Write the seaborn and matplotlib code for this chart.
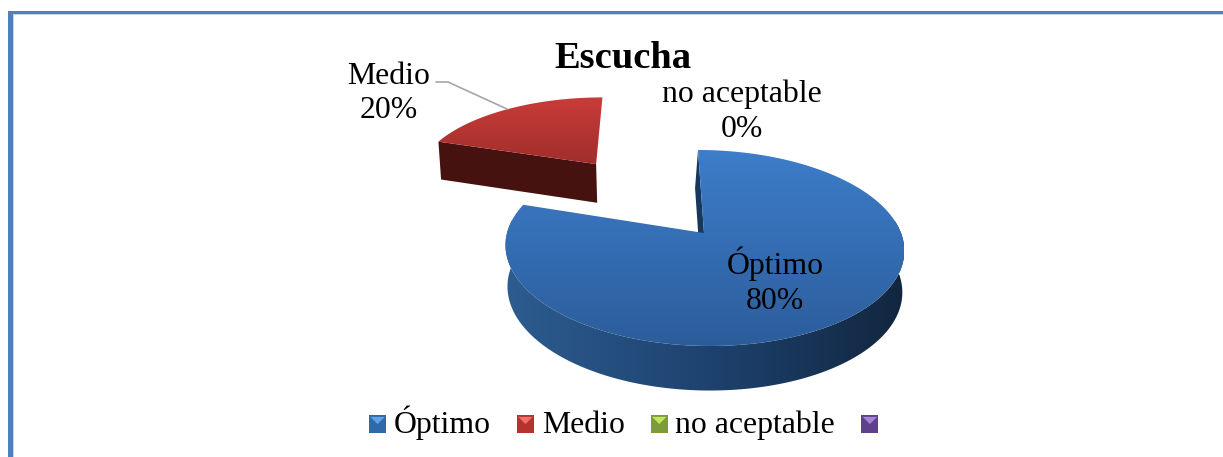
import numpy as np
import matplotlib
matplotlib.use("Agg")
import matplotlib.pyplot as plt
from matplotlib.legend_handler import HandlerBase
from matplotlib.patches import Patch, Polygon, Rectangle
import seaborn as sns

categories = ["Óptimo", "Medio", "no aceptable", ""]
values = [80, 20, 0, 0]
explode = [0, 1.0, 0, 0]
title = "Escucha"

top_colors = [["#3D7DCA", "#2C5D9B"], ["#C93C38", "#A12E2B"]]
wall_colors = [["#2D5C90", "#1E4370", "#12263F"], ["#45120F", "#45120F", "#45120F"]]
face_colors = ["#17375C", "#45120F"]
legend_colors = [("#2F69A8", "#5FA2E6"), ("#B5322F", "#F0706A"),
                 ("#7E9B3A", "#C4E45C"), ("#5E4188", "#A583D8")]
label_pos = [(775, 281), (389, 93.5), (742, 112)]

# projection of the tilted pie on the pixel grid of the picture
CX, CY, RX, RY = 704, 233, 197, 95.7
PERSP, SKEW = 0.153, 6
WALL_DX = [-3, 0]


def project(X, Y, lower=False, dx=0):
    w = 1 + PERSP * Y
    x = CX + RX * X / w - SKEW * Y
    y = CY - RY * Y / w
    if lower:
        x = CX + 0.99 * (x - CX) + dx
        y = y + 41 / np.sqrt(w)
    return x, y


def gradient(ax, pts, colors, zorder, vertical=True):
    cmap = sns.blend_palette(colors, n_colors=256, as_cmap=True)
    ramp = np.linspace(0, 1, 256)
    img = ramp[:, None] if vertical else ramp[None, :]
    x0, y0 = pts.min(axis=0)
    x1, y1 = pts.max(axis=0)
    im = ax.imshow(img, cmap=cmap, extent=[x0, x1, y1, y0], aspect="auto",
                   origin="upper", interpolation="bilinear", zorder=zorder)
    im.set_clip_path(Polygon(pts, transform=ax.transData))


class BevelHandler(HandlerBase):
    def create_artists(self, legend, handle, xdescent, ydescent, width, height, fontsize, trans):
        base, light = handle.get_facecolor(), handle.get_edgecolor()
        s = width
        y0 = (height - s) / 2 - ydescent - 1.5
        x0 = -xdescent
        body = Rectangle((x0, y0), s, s, facecolor=base, edgecolor="none", transform=trans)
        tri = Polygon([(x0 + 1, y0 + s - 1), (x0 + s - 1, y0 + s - 1), (x0 + s / 2, y0 + s * 0.5)],
                      facecolor=light, edgecolor="none", transform=trans)
        return [body, tri]


sns.set_theme(style="white")
plt.rcParams["font.family"] = ["Liberation Serif", "DejaVu Serif"]

fig = plt.figure(figsize=(12.23, 4.57), dpi=100, facecolor="white")
ax = fig.add_axes([0, 0, 1, 1])
ax.set_xlim(0, 1223)
ax.set_ylim(457, 0)
ax.axis("off")

# page frame: only the top and left sides are in the crop
ax.add_patch(Rectangle((13, 14), 1210, 1.2, facecolor="#C5D6EA", edgecolor="none"))
ax.add_patch(Rectangle((13, 14), 1.2, 443, facecolor="#C5D6EA", edgecolor="none"))
ax.add_patch(Rectangle((8, 11), 1215, 3, facecolor="#4F81BD", edgecolor="none"))
ax.add_patch(Rectangle((8, 11), 5.3, 446, facecolor="#4F81BD", edgecolor="none"))

total = sum(values)
stops = np.cumsum(values) / total * 2 * np.pi
starts = np.r_[0, stops[:-1]]
bisect = (starts + stops) / 2

for i, val in enumerate(values):
    if val == 0:
        continue
    th = np.linspace(starts[i], stops[i], 200)
    ox = explode[i] * np.sin(bisect[i])
    oy = explode[i] * np.cos(bisect[i])
    rim_x, rim_y = np.sin(th) + ox, np.cos(th) + oy

    # outer wall, only the part that faces the viewer
    front = np.cos(th) < 0.15
    if front.any():
        tx, ty = project(rim_x[front], rim_y[front])
        lx, ly = project(rim_x[front], rim_y[front], lower=True)
        wall = np.r_[np.c_[tx, ty], np.c_[lx, ly][::-1]]
        gradient(ax, wall, wall_colors[i], zorder=1, vertical=False)

    # cut face at the start of the slice
    ax_top = project(np.array([ox, rim_x[0]]), np.array([oy, rim_y[0]]))
    ax_low = project(np.array([ox, rim_x[0]]), np.array([oy, rim_y[0]]), lower=True, dx=WALL_DX[i])
    face = np.r_[np.c_[ax_top[0], ax_top[1]], np.c_[ax_low[0], ax_low[1]][::-1]]
    ax.add_patch(Polygon(face, facecolor=face_colors[i], edgecolor="none", zorder=1.5))

    # top surface
    sx, sy = project(rim_x, rim_y)
    ax0, ay0 = project(ox, oy)
    surf = np.r_[[[ax0, ay0]], np.c_[sx, sy]]
    gradient(ax, surf, top_colors[i], zorder=2)

ax.set_xlim(0, 1223)
ax.set_ylim(457, 0)

ax.plot([436, 448, 507], [82, 82, 109], color="#A6A6A6", linewidth=1.2, zorder=3)

for (px, py), cat, val in zip(label_pos, categories, values):
    ax.text(px, py, f"{cat}\n{val}%", ha="center", va="center", fontsize=22.9,
            linespacing=1.27, color="black", zorder=4)

ax.text(623, 58, title, ha="center", va="center", fontsize=27.7, fontweight="bold",
        color="black", zorder=4)

handles = [Patch(facecolor=c[0], edgecolor=c[1]) for c in legend_colors]
ax.legend(handles, categories, ncol=4, loc="center left", bbox_to_anchor=(369, 423),
          bbox_transform=ax.transData, frameon=False, fontsize=22.9, borderpad=0,
          borderaxespad=0, handlelength=0.54, handleheight=0.54, handletextpad=0.24,
          columnspacing=0.82, labelcolor="black", handler_map={Patch: BevelHandler()})

fig.savefig("out.png", dpi=100)
